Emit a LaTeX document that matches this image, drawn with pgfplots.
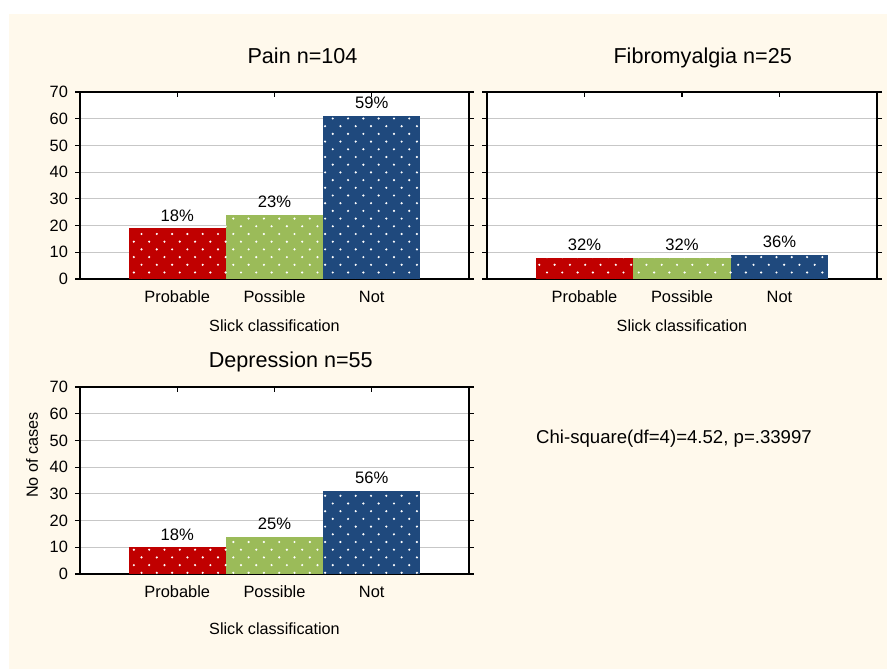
\documentclass[border=0pt]{standalone}
\usepackage{fontspec}
\setmainfont{Liberation Sans}
\usepackage{pgfplots}
\pgfplotsset{compat=1.18}
\usetikzlibrary{patterns.meta}
\definecolor{cream}{HTML}{FFF9EC}
\definecolor{cred}{HTML}{C00000}
\definecolor{cgreen}{HTML}{9BBB59}
\definecolor{cblue}{HTML}{1F497D}
\pgfdeclarepattern{
  name=mydots,
  type=uncolored,
  bottom left={\pgfpoint{-0.1pt}{-0.1pt}},
  top right={\pgfpoint{7.75pt}{7.8pt}},
  tile size={\pgfpoint{7.65pt}{7.7pt}},
  code={
    \pgfpathcircle{\pgfpoint{1.9pt}{1.9pt}}{0.6pt}
    \pgfpathcircle{\pgfpoint{5.725pt}{5.75pt}}{0.6pt}
    \pgfusepath{fill}
  }
}
\pgfplotsset{
  panel/.style={
    ybar, bar width=1,
    scale only axis,
    width=194.5pt, height=93.5pt,
    xmin=-1, xmax=3, ymin=0, ymax=70,
    xtick={0,1,2}, xticklabels={Probable,Possible,Not},
    ytick={0,10,...,70},
    xtick pos=both, ytick pos=both,
    xtick align=inside, ytick align=outside,
    major tick length=2.5pt,
    ymajorgrids,
    grid style={color=black!22, line width=0.6pt},
    axis line style={line width=0.7pt},
    tick style={line width=0.6pt, color=black},
    axis background/.style={fill=white},
    /pgf/number format/assume math mode=true,
    tick label style={font=\fontsize{8.2pt}{9pt}\selectfont},
    x tick label style={yshift=-2.5pt},
    every node near coord/.style={font=\fontsize{8.3pt}{9pt}\selectfont, text=black},
    nodes near coords,
    point meta=explicit symbolic,
    xlabel={Slick classification},
    xlabel style={at={(axis description cs:0.5,0)}, anchor=center, yshift=-23.5pt, font=\fontsize{8.1pt}{9pt}\selectfont},
    title style={anchor=base, font=\fontsize{10.8pt}{12pt}\selectfont},
  },
  bar/.style={draw=none, fill=#1, bar shift=0pt, postaction={pattern=mydots, pattern color=white}},
}
\begin{document}
\begin{tikzpicture}
\fill[white] (0,0) rectangle (443.5pt,334.5pt);
\fill[cream] (4.5pt,0) rectangle (443.5pt,327.5pt);

\begin{axis}[panel, at={(40pt,195pt)},
  title={Pain n=104},
  title style={at={(axis description cs:0.572,1)}, yshift=8pt}]
\addplot[bar=cred] coordinates {(0,19) [18\%]};
\addplot[bar=cgreen] coordinates {(1,24) [23\%]};
\addplot[bar=cblue] coordinates {(2,61) [59\%]};
\end{axis}

\begin{axis}[panel, at={(243.5pt,195pt)}, width=195pt,
  yticklabels={},
  title={Fibromyalgia n=25},
  title style={at={(axis description cs:0.553,1)}, yshift=8pt}]
\addplot[bar=cred] coordinates {(0,8) [32\%]};
\addplot[bar=cgreen] coordinates {(1,8) [32\%]};
\addplot[bar=cblue] coordinates {(2,9) [36\%]};
\end{axis}

\begin{axis}[panel, at={(40pt,47.5pt)},
  title={Depression n=55},
  title style={at={(axis description cs:0.542,1)}, yshift=3.5pt},
  xlabel style={yshift=-4pt},
  ylabel={No of cases},
  ylabel style={at={(axis description cs:-0.1234,0.636)}, anchor=center, font=\fontsize{8.1pt}{9pt}\selectfont}]
\addplot[bar=cred] coordinates {(0,10) [18\%]};
\addplot[bar=cgreen] coordinates {(1,14) [25\%]};
\addplot[bar=cblue] coordinates {(2,31) [56\%]};
\end{axis}

\node[font=\fontsize{9.3pt}{11pt}\selectfont] at (337pt,115pt) {Chi-square(df=4)=4.52, p=.33997};

\pgfresetboundingbox
\useasboundingbox (0,0) rectangle (443.5pt,334.5pt);
\end{tikzpicture}
\end{document}
